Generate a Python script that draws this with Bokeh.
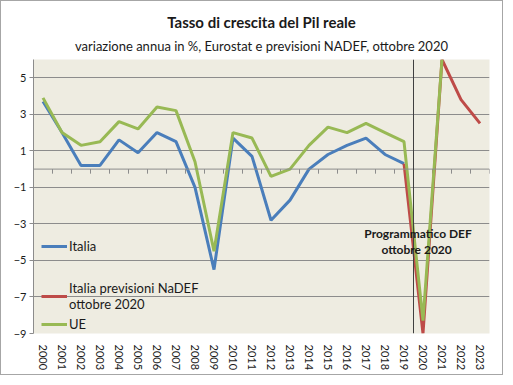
import numpy as np
from bokeh.plotting import figure
from bokeh.models import (FixedTicker, Span, Label, Legend, LegendItem, Title,
                          ColumnDataSource, Range1d)
from bokeh.embed import file_html
from bokeh.resources import INLINE

# ---- data ----
years = [str(y) for y in range(2000, 2024)]
italia = [3.7, 2.0, 0.2, 0.2, 1.6, 0.9, 2.0, 1.5, -1.0, -5.5,
          1.7, 0.7, -2.8, -1.7, 0.0, 0.8, 1.3, 1.7, 0.8, 0.3]
nadef_years = ["2019", "2020", "2021", "2022", "2023"]
nadef = [0.3, -9.0, 6.0, 3.8, 2.5]
ue = [3.9, 2.0, 1.3, 1.5, 2.6, 2.2, 3.4, 3.2, 0.4, -4.5,
      2.0, 1.7, -0.4, 0.0, 1.3, 2.3, 2.0, 2.5, 2.0, 1.5, -8.3, 6.0]
y_ticks = [-9, -7, -5, -3, -1, 1, 3, 5]

FONT = "Lato"
BLUE = "#4A7EBB"
RED = "#BE4B48"
GREEN = "#98B954"
GRID = "#8C8C8C"

idx = {y: i for i, y in enumerate(years)}
src_it = ColumnDataSource(dict(x=[idx[y] for y in years[:len(italia)]], y=italia))
src_nd = ColumnDataSource(dict(x=[idx[y] for y in nadef_years], y=nadef))
src_ue = ColumnDataSource(dict(x=[idx[y] for y in years[:len(ue)]], y=ue))

p = figure(width=503, height=375, output_backend="svg", toolbar_location=None,
           x_range=Range1d(-0.5, len(years) - 0.5), y_range=Range1d(-9, 6),
           min_border_left=32, min_border_right=15, min_border_top=58,
           min_border_bottom=43,
           styles={"border": "1px solid #A6A6A6"})
p.title = None
p.background_fill_color = "#EEECE1"
p.border_fill_color = "white"
p.outline_line_color = None

sub = Title(text="variazione annua in %, Eurostat e previsioni NADEF, ottobre 2020",
            align="center", text_font=FONT, text_font_size="13px",
            text_font_style="normal", text_color="#1a1a1a", offset=-12,
            standoff=11)
main = Title(text="Tasso di crescita del Pil reale", align="center",
             text_font=FONT, text_font_size="15px", text_font_style="bold",
             text_color="#1a1a1a", offset=-12, standoff=0)
p.add_layout(sub, "above")
p.add_layout(main, "above")

# y axis
p.yaxis.ticker = FixedTicker(ticks=y_ticks)
p.yaxis.axis_line_color = GRID
p.yaxis.major_tick_line_color = GRID
p.yaxis.major_tick_out = 4
p.yaxis.major_tick_in = 0
p.yaxis.minor_tick_line_color = None
p.yaxis.major_label_text_font = FONT
p.yaxis.major_label_text_font_size = "11px"
p.yaxis.major_label_text_color = "#1a1a1a"
p.yaxis.major_label_standoff = 3
p.ygrid.ticker = FixedTicker(ticks=y_ticks)
p.ygrid.grid_line_color = GRID
p.xgrid.grid_line_color = None

# x axis (labels at the bottom)
p.xaxis.ticker = FixedTicker(ticks=list(range(len(years))))
p.xaxis.major_label_overrides = {i: y for i, y in enumerate(years)}
p.xaxis.major_label_orientation = "vertical"
p.xaxis.axis_line_color = None
p.xaxis.major_tick_line_color = None
p.xaxis.minor_tick_line_color = None
p.xaxis.major_label_text_font = FONT
p.xaxis.major_label_text_font_size = "11px"
p.xaxis.major_label_text_color = "#1a1a1a"
p.xaxis.major_label_standoff = 5

# zero line with category-boundary ticks
p.add_layout(Span(location=0, dimension="width", line_color=GRID, line_width=1))
bounds = np.arange(len(years) + 1) - 0.5
p.segment(x0=bounds, y0=0, x1=bounds, y1=-0.25, line_color=GRID, line_width=1)

# forecast divider
p.add_layout(Span(location=idx["2020"] - 0.5, dimension="height",
                  line_color="#404040", line_width=1))

r_it = p.line("x", "y", source=src_it, line_color=BLUE, line_width=3)
r_nd = p.line("x", "y", source=src_nd, line_color=RED, line_width=3)
r_ue = p.line("x", "y", source=src_ue, line_color=GREEN, line_width=3)

p.add_layout(Label(x=idx["2020"] - 0.26, y=-3.95,
                   text="Programmatico DEF\nottobre  2020",
                   text_align="center", text_baseline="middle",
                   text_font=FONT, text_font_size="12px",
                   text_font_style="bold", text_color="#1a1a1a",
                   text_line_height=1.05))

leg_style = dict(background_fill_alpha=0, border_line_color=None,
                 label_text_font=FONT, label_text_font_size="13px",
                 label_text_color="#1a1a1a", glyph_width=26, glyph_height=18,
                 label_standoff=2, padding=0, margin=0, label_height=18)
leg1 = Legend(items=[LegendItem(label="Italia", renderers=[r_it])],
              location=(8, 78), **leg_style)
leg2 = Legend(items=[LegendItem(label="Italia previsioni NaDEF\nottobre 2020", renderers=[r_nd]),
                     LegendItem(label="UE", renderers=[r_ue])],
              location=(8, 0), spacing=3, label_text_line_height=1.45,
              **leg_style)
p.add_layout(leg1)
p.add_layout(leg2)

open("out.html", "w").write(file_html(p, INLINE))
